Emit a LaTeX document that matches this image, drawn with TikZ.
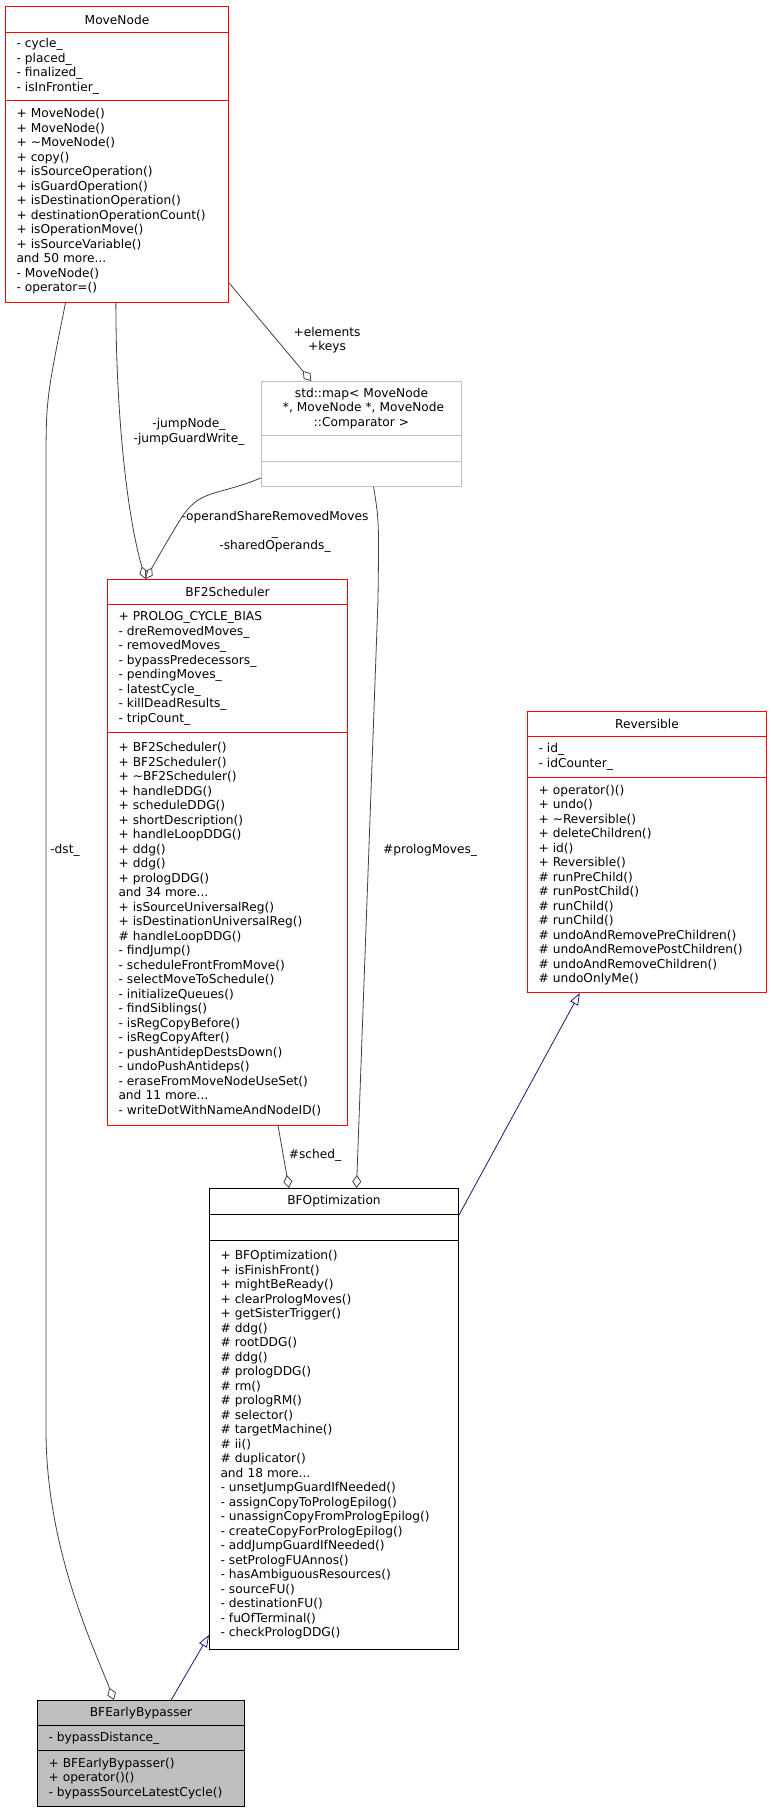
\documentclass[tikz,border=0pt]{standalone}
\usepackage{fontspec}
\setmainfont{DejaVu Sans}
\usetikzlibrary{arrows.meta,calc}

\definecolor{boxred}{HTML}{FF0000}
\definecolor{edgegray}{HTML}{404040}
\definecolor{mapgray}{HTML}{BFBFBF}
\definecolor{inhblue}{HTML}{191970}
\newcommand{\clsfont}{\fontsize{12.2}{14.5}\selectfont}

\begin{document}
\begin{tikzpicture}[x=1pt, y=-1pt, thick]
    % Styles
    \tikzstyle{part} = [draw, anchor=north west, inner xsep=11pt, inner ysep=0pt, font=\clsfont, line width=1pt]
    \tikzstyle{title} = [part, align=center]
    \tikzstyle{items} = [part, align=left]
    \tikzstyle{agg} = [draw=edgegray, line width=0.8pt, -{Diamond[open,length=13pt,width=9pt]}]
    \tikzstyle{inh} = [draw=inhblue, line width=0.8pt, -{Triangle[open,length=12pt,width=9pt]}]
    \tikzstyle{lbl} = [font=\clsfont, align=center, inner sep=0pt]

    \useasboundingbox (0,0) rectangle (771,1808);

    % MoveNode
    \node [title, draw=boxred, minimum width=223, text width=201, minimum height=26] (mnt) at (5,6) {MoveNode};
    \node [items, draw=boxred, minimum width=223, text width=201, minimum height=68] (mna) at (5,32)
        {- cycle\_\\- placed\_\\- finalized\_\\- isInFrontier\_};
    \node [items, draw=boxred, minimum width=223, text width=201, minimum height=202] (mnm) at (5,100)
        {+ MoveNode()\\+ MoveNode()\\+ \textasciitilde MoveNode()\\+ copy()\\+ isSourceOperation()\\+ isGuardOperation()\\+ isDestinationOperation()\\+ destinationOperationCount()\\+ isOperationMove()\\+ isSourceVariable()\\and 50 more...\\- MoveNode()\\- operator=()};

    % std::map
    \node [title, draw=mapgray, minimum width=200, text width=178, minimum height=54] (mapt) at (261,381)
        {std::map< MoveNode\\~*, MoveNode *, MoveNode\\::Comparator >};
    \node [part, draw=mapgray, minimum width=200, minimum height=26] (mapa) at (261,435) {};
    \node [part, draw=mapgray, minimum width=200, minimum height=25] (mapm) at (261,461) {};

    % BF2Scheduler
    \node [title, draw=boxred, minimum width=240, text width=218, minimum height=25] (bst) at (107,579) {BF2Scheduler};
    \node [items, draw=boxred, minimum width=240, text width=218, minimum height=128] (bsa) at (107,604)
        {+ PROLOG\_CYCLE\_BIAS\\- dreRemovedMoves\_\\- removedMoves\_\\- bypassPredecessors\_\\- pendingMoves\_\\- latestCycle\_\\- killDeadResults\_\\- tripCount\_};
    \node [items, draw=boxred, minimum width=240, text width=218, minimum height=393] (bsm) at (107,732)
        {+ BF2Scheduler()\\+ BF2Scheduler()\\+ \textasciitilde BF2Scheduler()\\+ handleDDG()\\+ scheduleDDG()\\+ shortDescription()\\+ handleLoopDDG()\\+ ddg()\\+ ddg()\\+ prologDDG()\\and 34 more...\\+ isSourceUniversalReg()\\+ isDestinationUniversalReg()\\\# handleLoopDDG()\\- findJump()\\- scheduleFrontFromMove()\\- selectMoveToSchedule()\\- initializeQueues()\\- findSiblings()\\- isRegCopyBefore()\\- isRegCopyAfter()\\- pushAntidepDestsDown()\\- undoPushAntideps()\\- eraseFromMoveNodeUseSet()\\and 11 more...\\- writeDotWithNameAndNodeID()};

    % Reversible
    \node [title, draw=boxred, minimum width=239, text width=217, minimum height=25] (revt) at (527,711) {Reversible};
    \node [items, draw=boxred, minimum width=239, text width=217, minimum height=41] (reva) at (527,736)
        {- id\_\\- idCounter\_};
    \node [items, draw=boxred, minimum width=239, text width=217, minimum height=215] (revm) at (527,777)
        {+ operator()()\\+ undo()\\+ \textasciitilde Reversible()\\+ deleteChildren()\\+ id()\\+ Reversible()\\\# runPreChild()\\\# runPostChild()\\\# runChild()\\\# runChild()\\\# undoAndRemovePreChildren()\\\# undoAndRemovePostChildren()\\\# undoAndRemoveChildren()\\\# undoOnlyMe()};

    % BFOptimization
    \node [title, draw=black, minimum width=249, text width=227, minimum height=26] (bot) at (209,1188) {BFOptimization};
    \node [part, draw=black, minimum width=249, minimum height=26] (boa) at (209,1214) {};
    \node [items, draw=black, minimum width=249, text width=227, minimum height=409] (bom) at (209,1240)
        {+ BFOptimization()\\+ isFinishFront()\\+ mightBeReady()\\+ clearPrologMoves()\\+ getSisterTrigger()\\\# ddg()\\\# rootDDG()\\\# ddg()\\\# prologDDG()\\\# rm()\\\# prologRM()\\\# selector()\\\# targetMachine()\\\# ii()\\\# duplicator()\\and 18 more...\\- unsetJumpGuardIfNeeded()\\- assignCopyToPrologEpilog()\\- unassignCopyFromPrologEpilog()\\- createCopyForPrologEpilog()\\- addJumpGuardIfNeeded()\\- setPrologFUAnnos()\\- hasAmbiguousResources()\\- sourceFU()\\- destinationFU()\\- fuOfTerminal()\\- checkPrologDDG()};

    % BFEarlyBypasser
    \node [title, draw=black, fill=mapgray, minimum width=207, text width=185, minimum height=25] (bet) at (37,1700) {BFEarlyBypasser};
    \node [items, draw=black, fill=mapgray, minimum width=207, text width=185, minimum height=25] (bea) at (37,1725)
        {- bypassDistance\_};
    \node [items, draw=black, fill=mapgray, minimum width=207, text width=185, minimum height=56] (bem) at (37,1750)
        {+ BFEarlyBypasser()\\+ operator()()\\- bypassSourceLatestCycle()};

    % Aggregations
    \draw [agg] (mnm.-36) -- ($(mapt.north west)!0.25!(mapt.north east)$);
    \draw [agg] ($(mnm.south west)!0.495!(mnm.south east)$) .. controls (116,420) and (128,520) .. ($(bst.north west)!0.16!(bst.north east)$);
    \draw [agg] ($(mapm.west)!0.3!(mapm.south west)$) .. controls (215,497) and (200,488) .. (180,520) .. controls (165,545) .. ($(bst.north west)!0.16!(bst.north east)$);
    \draw [agg] ($(mapm.south west)!0.56!(mapm.south east)$) .. controls (379,520) .. (378,600) -- ($(bot.north west)!0.59!(bot.north east)$);
    \draw [agg] ($(bsm.south west)!0.71!(bsm.south east)$) -- ($(bot.north west)!0.32!(bot.north east)$);
    \draw [agg] ($(mnm.south west)!0.27!(mnm.south east)$) .. controls (46,400) .. (46,470) -- (46,1430) .. controls (46,1550) and (95,1650) .. ($(bet.north west)!0.37!(bet.north east)$);

    % Inheritance
    \draw [inh] (bot.south east) -- ($(revm.south west)!0.22!(revm.south east)$);
    \draw [inh] ($(bet.north west)!0.645!(bet.north east)$) -- ($(bom.south west)+(0,-15)$);

    % Labels
    \node [lbl] (lelem) at (327,340) {+elements\\+keys};
    \node [lbl] (ljump) at (189,432) {-jumpNode\_\\-jumpGuardWrite\_};
    \node [lbl] (loper) at (275,532) {-operandShareRemovedMoves\\\_\\-sharedOperands\_};
    \node [lbl] (ldst) at (65,850) {-dst\_};
    \node [lbl] (lprol) at (430,850) {\#prologMoves\_};
    \node [lbl] (lsched) at (315,1155) {\#sched\_};
\end{tikzpicture}
\end{document}
